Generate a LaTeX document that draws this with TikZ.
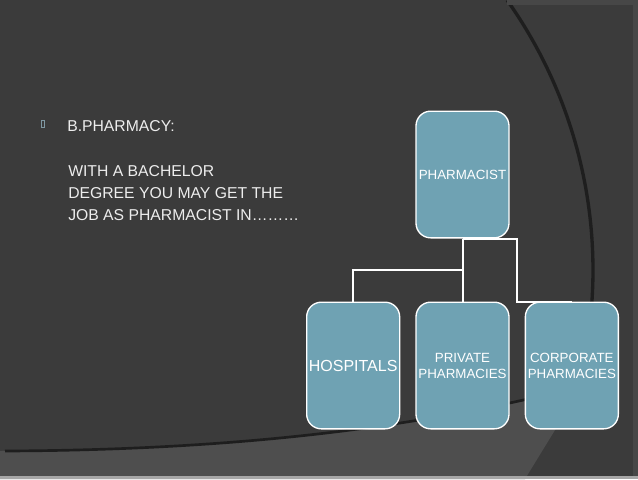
\documentclass[tikz,border=0pt]{standalone}
\usepackage{fontspec}
\setmainfont{Liberation Sans}
\usetikzlibrary{positioning}
\definecolor{slidebg}{HTML}{3B3B3B}
\definecolor{bandgray}{HTML}{4E4E4E}
\definecolor{edgegray}{HTML}{474747}
\definecolor{arcdark}{HTML}{1E1E1E}
\definecolor{boxblue}{HTML}{6FA2B3}
\definecolor{textgray}{HTML}{EDEDED}
\definecolor{bulletgray}{HTML}{7F98A2}

\begin{document}
\begin{tikzpicture}[x=0.75pt, y=-0.75pt,
    orgbox/.style={draw=white, line width=1pt, fill=boxblue, rounded corners=11pt,
      minimum width=69.75pt, minimum height=95pt, inner sep=1pt, align=center,
      text=white, font=\fontsize{10}{12}\selectfont},
    link/.style={draw=white, line width=1.5pt},
    slidetext/.style={inner sep=0pt, text=textgray, font=\fontsize{11.8}{16.5}\selectfont}]
  % Background
  \useasboundingbox (0,0) rectangle (638,479);
  \fill[slidebg] (0,0) rectangle (638,479);
  \fill[bandgray] (0,451) .. controls (250,450) and (430,425) .. (582,386)
        -- (525,479) -- (0,479) -- cycle;
  \draw[arcdark, line width=2pt] (5,451) .. controls (250,450) and (430,425) .. (582,386);
  \draw[arcdark, line width=2.5pt] plot[domain=-35.3:14.4, samples=60]
        ({126+467*cos(\x)},{270+467*sin(\x)});
  \fill[edgegray] (507,0) rectangle (638,5);
  \fill[edgegray] (633,0) rectangle (638,479);
  \fill[gray!70] (0,476) rectangle (638,479);
  % Left text
  \node[draw=bulletgray, line width=0.4pt, inner sep=0pt,
        minimum width=2pt, minimum height=5.5pt] (bullet) at (43,123.5) {};
  \node[slidetext, anchor=base west] (title) at (67,131) {B.PHARMACY:};
  \node[slidetext, anchor=north west, align=left] (desc) at (68,165.5)
        {WITH A BACHELOR\\DEGREE YOU MAY GET THE\\JOB AS PHARMACIST IN………};
  % Chart
  \node[orgbox] (pharm) at (462.5,174.5) {PHARMACIST};
  \node[orgbox, below=47.25pt of pharm] (priv) {PRIVATE\\PHARMACIES};
  \node[orgbox, left=11.25pt of priv, font=\fontsize{12}{14}\selectfont] (hosp) {HOSPITALS};
  \node[orgbox, right=11.25pt of priv] (corp) {CORPORATE\\PHARMACIES};
  % Links
  \draw[link] (pharm.south) -- ++(0,31) -| (hosp.north);
  \draw[link] (pharm.south) -- (priv.north);
  \draw[link] (pharm.south) -- ++(54,0) |- (corp.north);
\end{tikzpicture}
\end{document}
